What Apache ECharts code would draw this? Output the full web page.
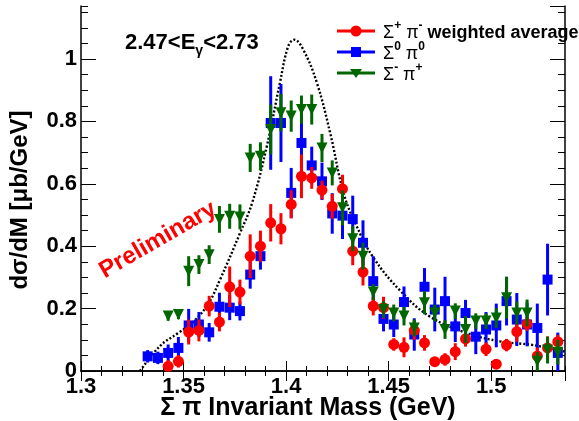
<!DOCTYPE html>
<html>
<head>
<meta charset="utf-8">
<script src="https://cdn.jsdelivr.net/npm/echarts@6/dist/echarts.min.js"></script>
<style>
  html, body { margin: 0; padding: 0; background: #fff; }
  #chart { width: 579px; height: 421px; }
</style>
</head>
<body>
<div id="chart"></div>
<script>
// bin centres (GeV)
const massBins = [
  1.3325, 1.3375, 1.3425, 1.3475, 1.3525, 1.3575, 1.3625, 1.3675, 1.3725, 1.3775,
  1.3825, 1.3875, 1.3925, 1.3975, 1.4025, 1.4075, 1.4125, 1.4175, 1.4225, 1.4275,
  1.4325, 1.4375, 1.4425, 1.4475, 1.4525, 1.4575, 1.4625, 1.4675, 1.4725, 1.4775,
  1.4825, 1.4875, 1.4925, 1.4975, 1.5025, 1.5075, 1.5125, 1.5175, 1.5225, 1.5275,
  1.5325
]

// Σ+ π- weighted average
const sigPlusVal = [
  null, null, 0.015, 0.031, 0.125, 0.130, 0.208, 0.157, 0.270, 0.253,
  0.368, 0.400, 0.475, 0.456, 0.534, 0.624, 0.619, 0.580, 0.528, 0.584,
  0.384, 0.317, 0.208, 0.203, 0.085, 0.076, 0.130, 0.090, 0.030, 0.037,
  0.062, 0.103, null, 0.070, 0.022, 0.083, 0.126, 0.151, 0.048, 0.074,
  0.094
]
const sigPlusErr = [
  null, null, 0.02, 0.02, 0.04, 0.035, 0.033, 0.03, 0.065, 0.04,
  0.07, 0.05, 0.06, 0.05, 0.045, 0.07, 0.035, 0.03, 0.04, 0.045,
  0.045, 0.043, 0.03, 0.035, 0.02, 0.032, 0.03, 0.025, 0.015, 0.02,
  0.027, 0.025, null, 0.022, 0.01, 0.02, 0.032, 0.022, 0.027, 0.037,
  0.022
]

// Σ0 π0
const sigZeroVal = [
  0.047, 0.042, 0.058, 0.074, 0.146, 0.149, 0.124, 0.206, 0.203, 0.192,
  0.309, 0.368, 0.795, 0.795, 0.571, 0.731, 0.659, 0.608, 0.505, 0.498,
  0.487, 0.411, 0.288, 0.167, 0.149, 0.221, 0.117, 0.270, 0.197, 0.224,
  0.143, 0.186, 0.110, 0.133, 0.146, 0.224, 0.165, 0.149, 0.138, 0.293,
  0.058
]
const sigZeroErr = [
  0.02, 0.02, 0.027, 0.035, 0.053, 0.04, 0.03, 0.045, 0.04, 0.03,
  0.045, 0.043, 0.15, 0.125, 0.08, 0.1, 0.06, 0.06, 0.065, 0.075,
  0.075, 0.072, 0.08, 0.04, 0.04, 0.05, 0.052, 0.06, 0.07, 0.078,
  0.05, 0.042, 0.056, 0.056, 0.07, 0.078, 0.085, 0.07, 0.078, 0.115,
  0.065
]

// Σ- π+
const sigMinusVal = [
  null, null, 0.176, 0.181, 0.320, 0.341, 0.373, 0.486, 0.496, 0.494,
  0.683, 0.688, 0.774, 0.828, 0.817, 0.838, 0.838, 0.715, 0.635, 0.523,
  0.424, 0.368, 0.253, 0.197, 0.186, 0.176, 0.138, 0.219, 0.186, 0.133,
  0.192, 0.133, 0.160, 0.160, 0.170, 0.235, 0.186, 0.186, 0.031, 0.067,
  0.060
]
const sigMinusErr = [
  null, null, 0.015, 0.015, 0.048, 0.03, 0.03, 0.043, 0.04, 0.04,
  0.045, 0.045, 0.08, 0.06, 0.05, 0.045, 0.048, 0.045, 0.04, 0.056,
  0.04, 0.043, 0.025, 0.027, 0.027, 0.03, 0.027, 0.037, 0.027, 0.03,
  0.025, 0.043, 0.025, 0.025, 0.032, 0.067, 0.037, 0.043, 0.03, 0.043,
  0.04
]

// dotted reference curve
const curveMass = [
  1.3288, 1.3385, 1.3470, 1.3548, 1.3620, 1.3678, 1.3776, 1.3835, 1.3906, 1.3970,
  1.4010, 1.4040, 1.4084, 1.4150, 1.4215, 1.4280, 1.4340, 1.4426, 1.4560, 1.4700,
  1.4880, 1.5044, 1.5205, 1.5360
]
const curveValue = [
  0.0, 0.080, 0.120, 0.158, 0.215, 0.293, 0.443, 0.540, 0.720, 0.924,
  1.040, 1.062, 1.030, 0.924, 0.763, 0.571, 0.470, 0.363, 0.255, 0.175,
  0.122, 0.095, 0.083, 0.062
]

const xTicks = [1.3, 1.35, 1.4, 1.45, 1.5]
const yTicks = [0, 0.2, 0.4, 0.6, 0.8, 1]

const FONT = '"Liberation Sans", Arial, Helvetica, sans-serif'
const RED = '#ff0000'
const BLUE = '#0000ff'
const GREEN = '#006600'

const chart = echarts.init(document.getElementById('chart'), null, { renderer: 'canvas' })

const pts = (vals, errs) => massBins
  .map((m, i) => [m, vals[i], errs[i]])
  .filter(p => p[1] !== null)

const errorBars = (name, vals, errs, color, z) => ({
  name,
  type: 'custom',
  xAxisIndex: 0,
  yAxisIndex: 0,
  z,
  clip: true,
  data: pts(vals, errs),
  renderItem: (params, api) => {
    const x = api.value(0)
    const y = api.value(1)
    const e = api.value(2)
    const a = api.coord([x, y - e])
    const b = api.coord([x, y + e])
    return {
      type: 'line',
      shape: { x1: a[0], y1: a[1], x2: b[0], y2: b[1] },
      style: { stroke: color, lineWidth: 3 }
    }
  }
})

const markers = (name, vals, errs, color, symbol, size, rotate, z) => ({
  name,
  type: 'scatter',
  xAxisIndex: 0,
  yAxisIndex: 0,
  z,
  symbol,
  symbolSize: size,
  symbolRotate: rotate,
  itemStyle: { color, opacity: 1 },
  data: pts(vals, errs).map(p => [p[0], p[1]])
})

const fmt = v => String(+v.toFixed(2))

// grid 0: minor ticks + frame, grid 1: major ticks + labels
const xMin = 1.3, xMax = 1.536, yMin = 0, yMax = 1.17
const gridRect = { left: 81, right: 14, top: 6, bottom: 50 }

const axisLineStyle = { show: true, lineStyle: { color: '#000', width: 1.5 } }

const xMinor = (position) => ({
  type: 'value', gridIndex: 0, position, min: xMin, max: xMax, interval: 0.01,
  axisLine: axisLineStyle,
  axisTick: { show: true, inside: true, length: 5, lineStyle: { color: '#000', width: 1 } },
  axisLabel: { show: false },
  splitLine: { show: false }
})
const xMajor = (position, labels) => ({
  type: 'value', gridIndex: 1, position, min: xMin, max: xMax, interval: 0.05,
  axisLine: { show: false },
  axisTick: { show: true, inside: true, length: 10, lineStyle: { color: '#000', width: 1 } },
  axisLabel: {
    show: labels,
    showMaxLabel: false,
    margin: 5,
    color: '#000',
    fontFamily: FONT,
    fontWeight: 'bold',
    fontSize: 22,
    formatter: v => (xTicks.some(t => Math.abs(t - v) < 1e-6) ? fmt(v) : '')
  },
  splitLine: { show: false }
})
const yMinor = (position) => ({
  type: 'value', gridIndex: 0, position, min: yMin, max: yMax, interval: 0.05,
  axisLine: axisLineStyle,
  axisTick: { show: true, inside: true, length: 7, lineStyle: { color: '#000', width: 1 } },
  axisLabel: { show: false },
  splitLine: { show: false }
})
const yMajor = (position, labels) => ({
  type: 'value', gridIndex: 1, position, min: yMin, max: yMax, interval: 0.2,
  axisLine: { show: false },
  axisTick: { show: true, inside: true, length: 15, lineStyle: { color: '#000', width: 1 } },
  axisLabel: {
    show: labels,
    showMaxLabel: false,
    margin: 4,
    color: '#000',
    fontFamily: FONT,
    fontWeight: 'bold',
    fontSize: 22,
    formatter: v => (yTicks.some(t => Math.abs(t - v) < 1e-6) ? fmt(v) : '')
  },
  splitLine: { show: false }
})

// legend rows (drawn by hand, ROOT style: line + marker)
const legendRows = [
  { color: RED, shape: 'circle', text: '{t|Σ}{sup|+}{t| π}{sup|-}{b| weighted average}' },
  { color: BLUE, shape: 'rect', text: '{t|Σ}{sup|0}{t| π}{sup|0}' },
  { color: GREEN, shape: 'tri', text: '{t|Σ}{sup|-}{t| π}{sup|+}' }
]
const legendGraphics = []
legendRows.forEach((row, i) => {
  const y = 31 + i * 21
  legendGraphics.push({
    type: 'line', shape: { x1: 337, y1: y, x2: 375, y2: y },
    style: { stroke: row.color, lineWidth: 3 }
  })
  if (row.shape === 'circle') {
    legendGraphics.push({ type: 'circle', shape: { cx: 356, cy: y, r: 5.5 }, style: { fill: row.color } })
  } else if (row.shape === 'rect') {
    legendGraphics.push({ type: 'rect', shape: { x: 351, y: y - 5, width: 10, height: 10 }, style: { fill: row.color } })
  } else {
    legendGraphics.push({
      type: 'polygon', shape: { points: [[350, y - 4], [362, y - 4], [356, y + 5]] },
      style: { fill: row.color }
    })
  }
  legendGraphics.push({
    type: 'text', left: 383, top: y - 11,
    style: {
      text: row.text,
      rich: {
        t: { fontFamily: FONT, fontSize: 18, fill: '#000', lineHeight: 22, verticalAlign: 'bottom' },
        b: { fontFamily: FONT, fontSize: 18, fontWeight: 'bold', fill: '#000', lineHeight: 22, verticalAlign: 'bottom' },
        sup: { fontFamily: FONT, fontSize: 12, fontWeight: 'bold', fill: '#000', lineHeight: 22, verticalAlign: 'top' }
      }
    }
  })
})

const option = {
  animation: false,
  backgroundColor: '#fff',
  grid: [
    Object.assign({}, gridRect),
    Object.assign({}, gridRect)
  ],
  xAxis: [xMinor('bottom'), xMinor('top'), xMajor('bottom', true), xMajor('top', false)],
  yAxis: [yMinor('left'), yMinor('right'), yMajor('left', true), yMajor('right', false)],
  series: [
    {
      name: 'curve',
      type: 'line',
      xAxisIndex: 0,
      yAxisIndex: 0,
      z: 1,
      smooth: 0.4,
      symbol: 'none',
      lineStyle: { color: '#000', width: 2.4, type: [2, 2] },
      data: curveMass.map((m, i) => [m, curveValue[i]])
    },
    errorBars('Σ0 π0 err', sigZeroVal, sigZeroErr, BLUE, 2),
    markers('Σ0 π0', sigZeroVal, sigZeroErr, BLUE, 'rect', 10, 0, 3),
    errorBars('Σ+ π- err', sigPlusVal, sigPlusErr, RED, 4),
    markers('Σ+ π- weighted average', sigPlusVal, sigPlusErr, RED, 'circle', 11, 0, 5),
    errorBars('Σ- π+ err', sigMinusVal, sigMinusErr, GREEN, 6),
    markers('Σ- π+', sigMinusVal, sigMinusErr, GREEN, 'triangle', 11, 180, 7)
  ],
  graphic: [
    {
      type: 'text', left: 125, top: 32, z: 10,
      style: {
        text: '{n|2.47<E}{s|γ}{n|<2.73}',
        rich: {
          n: { fontFamily: FONT, fontSize: 22, fontWeight: 'bold', fill: '#000', lineHeight: 26, verticalAlign: 'top' },
          s: { fontFamily: FONT, fontSize: 14, fontWeight: 'bold', fill: '#000', lineHeight: 26, verticalAlign: 'bottom' }
        }
      }
    },
    {
      type: 'text', x: 158, y: 240, rotation: Math.PI / 6, z: 10,
      style: {
        text: 'Preliminary', fill: RED, fontFamily: FONT, fontWeight: 'bold', fontSize: 24,
        align: 'center', verticalAlign: 'middle'
      }
    },
    {
      type: 'text', x: 308, y: 408, z: 10,
      style: {
        text: 'Σ π Invariant Mass (GeV)', fill: '#000', fontFamily: FONT, fontWeight: 'bold', fontSize: 25,
        align: 'center', verticalAlign: 'middle'
      }
    },
    {
      type: 'text', x: 20, y: 200, rotation: Math.PI / 2, z: 10,
      style: {
        text: 'dσ/dM [μb/GeV]', fill: '#000', fontFamily: FONT, fontWeight: 'bold', fontSize: 24,
        align: 'center', verticalAlign: 'middle'
      }
    }
  ].concat(legendGraphics)
}

chart.setOption(option)
</script>
</body>
</html>
